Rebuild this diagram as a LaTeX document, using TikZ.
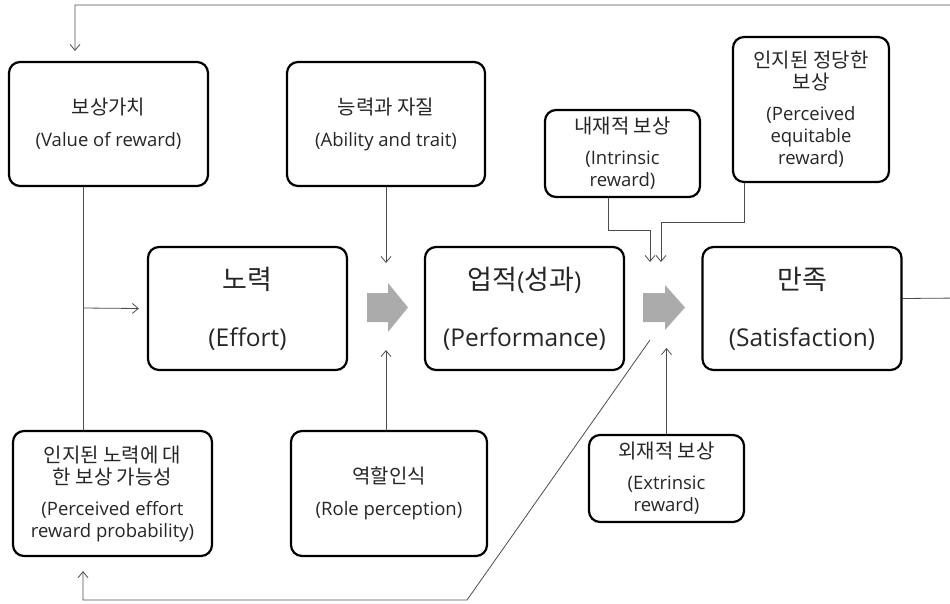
\documentclass[tikz,border=0pt]{standalone}
\usepackage{fontspec}
\setmainfont{Open Sans}
\newfontfamily\kr{Noto Sans CJK KR}
\newcommand\ko[1]{{\kr\fontsize{20}{22}\selectfont #1}}
\newcommand\kob[1]{{\kr\fontsize{27}{30}\selectfont #1}}
\usetikzlibrary{arrows.meta}

\begin{document}
\begin{tikzpicture}[x=1pt, y=-1pt, >={Straight Barb[length=6pt,width=10pt]},
        box/.style={draw, line width=2.2pt, rounded corners=11pt, align=center, inner sep=0pt, text=black!85},
        small/.style={box, font=\fontsize{18.5}{22}\selectfont},
        big/.style={box, minimum width=199pt, minimum height=123pt, font=\fontsize{24.5}{30}\selectfont},
        link/.style={draw=black!70, line width=0.8pt},
        block/.style={fill=black!33}]
        \useasboundingbox (0,0) rectangle (950,603);
        % boxes
        \node[small, minimum width=199pt, minimum height=124pt] (value) at (108.5,124) {\ko{보상가치}\\[10pt](Value of reward)};
        \node[small, minimum width=198pt, minimum height=124pt] (ability) at (386,124) {\ko{능력과 자질}\\[10pt](Ability and trait)};
        \node[small, minimum width=199pt, minimum height=125pt] (prob) at (112.5,493.5) {\ko{인지된 노력에 대}\\\ko{한 보상 가능성}\\[9pt](Perceived effort\\reward probability)};
        \node[small, minimum width=196pt, minimum height=125pt] (role) at (389,493.5) {\ko{역할인식}\\[10pt](Role perception)};
        \node[big] (effort) at (247.5,308.5) {\kob{노력}\\[27pt](Effort)};
        \node[big] (perf) at (524.5,308.5) {\kob{업적}(\kob{성과})\\[27pt](Performance)};
        \node[big] (satis) at (802,308.5) {\kob{만족}\\[27pt](Satisfaction)};
        \node[small, minimum width=155pt, minimum height=87pt] (intr) at (622.5,153.5) {\ko{내재적 보상}\\[9pt](Intrinsic\\reward)};
        \node[small, minimum width=156pt, minimum height=145pt] (equit) at (811,109.5) {\ko{인지된 정당한}\\\ko{보상}\\[9pt](Perceived\\equitable\\reward)};
        \node[small, minimum width=155pt, minimum height=87pt] (extr) at (666.5,478.5) {\ko{외재적 보상}\\[9pt](Extrinsic\\reward)};
        % gray block arrows
        \fill[block] (367,293) -- (388,293) -- (388,283) -- (408,307.5) -- (388,332) -- (388,322) -- (367,322) -- cycle;
        \fill[block] (643,293) -- (665,293) -- (665,285) -- (685,307.5) -- (665,330) -- (665,322) -- (643,322) -- cycle;
        % arrow ends
        \coordinate (ab) at (386,263);
        \coordinate (rb) at (386,350);
        \coordinate (ia) at (650,262);
        \coordinate (ea) at (661,262);
        \coordinate (xa) at (666.5,348);
        \coordinate (fb) at (650,340);
        \coordinate (vx) at (83,308);
        \coordinate (tl) at (75,5);
        \coordinate (vt) at ([yshift=10pt]value.north);
        \coordinate (pp) at ([yshift=-14pt]prob.south);
        % connectors
        \draw[link,->] (ability.south) -- (ab);
        \draw[link,->] (rb |- role.north) -- (rb);
        \draw[link] (vx |- value.south) -- (vx |- prob.north);
        \draw[link,->] (vx) -- ([xshift=-8pt]effort.west);
        \draw[link,->] ([yshift=10pt]satis.east) -- (960,298) |- (tl) -- (tl |- vt);
        \draw[link,->] ([xshift=-14.5pt]intr.south) |- (650,230) -- (ia);
        \draw[link,->] ([xshift=-67pt]equit.south) |- (661,222) -- (ea);
        \draw[link,->] (extr.north) -- (xa);
        \draw[link,->] (fb) -- (467,600) -| (vx |- pp);
    \end{tikzpicture}
\end{document}
